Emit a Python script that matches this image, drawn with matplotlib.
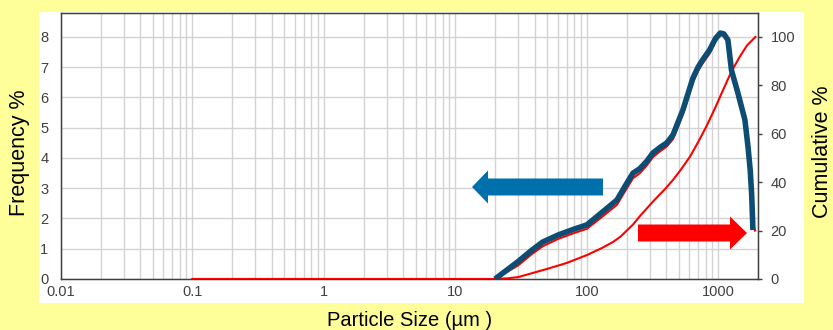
import matplotlib
matplotlib.use("Agg")
import matplotlib.pyplot as plt
from matplotlib.patches import Rectangle, FancyArrow
from matplotlib.ticker import LogLocator, FixedLocator, NullFormatter

plt.rcParams["font.family"] = ["Liberation Sans", "DejaVu Sans"]

# frequency curve (left axis), hand drawn blue overlay
size_blue = [20, 30, 38, 46, 60, 80, 100, 130, 169, 200, 224, 253, 286, 318, 360, 405,
             451, 500, 537, 575, 640, 700, 760, 857, 950, 1033, 1100, 1181, 1257, 1406,
             1590, 1680, 1745, 1790, 1830]
freq_blue = [0.0, 0.58, 0.95, 1.22, 1.45, 1.65, 1.79, 2.2, 2.61, 3.15, 3.5, 3.65, 3.9,
             4.17, 4.35, 4.5, 4.76, 5.25, 5.59, 6.0, 6.64, 7.0, 7.25, 7.57, 7.95, 8.13,
             8.1, 7.9, 6.9, 6.15, 5.26, 4.36, 3.6, 2.8, 1.62]

# frequency curve (left axis), red instrument trace
size_red = [0.1, 20, 30, 38, 46, 60, 80, 100, 130, 169, 200, 224, 253, 286, 318, 360,
            405, 451, 500, 537, 575, 640, 700, 760, 857, 950, 1033, 1100, 1181, 1257,
            1406, 1590, 1680, 1745, 1790, 1850, 1900]
freq_red = [0.0, 0.0, 0.45, 0.82, 1.08, 1.32, 1.52, 1.66, 2.05, 2.45, 2.98, 3.33, 3.5,
            3.76, 4.03, 4.22, 4.38, 4.62, 5.1, 5.45, 5.85, 6.5, 6.88, 7.13, 7.45, 7.85,
            8.05, 8.05, 7.88, 6.95, 6.22, 5.35, 4.45, 3.7, 2.9, 1.7, 1.6]

# cumulative curve (right axis)
size_cum = [0.1, 20, 25, 30, 38.8, 50, 70, 100, 130, 158, 180, 224, 253, 318, 390, 451,
            520, 607, 700, 818, 950, 1083, 1250, 1448, 1650, 1910]
cum = [0.0, 0.0, 0.3, 0.8, 2.5, 4.2, 6.6, 9.9, 12.8, 15.3, 17.5, 22.5, 26.0, 32.0, 37.0,
       40.9, 45.3, 50.5, 56.5, 63.5, 71.0, 78.0, 85.5, 91.7, 96.5, 100.0]

left_ticks = [0, 1, 2, 3, 4, 5, 6, 7, 8]
right_ticks = [0, 20, 40, 60, 80, 100]
x_ticks = [0.01, 0.1, 1, 10, 100, 1000]
x_labels = ["0.01", "0.1", "1", "10", "100", "1000"]

fig = plt.figure(figsize=(8.33, 3.3), dpi=100)
fig.patch.set_facecolor("#FFFF99")
fig.add_artist(Rectangle((39 / 833, 27 / 330), 765 / 833, 291 / 330,
                         transform=fig.transFigure, facecolor="white",
                         edgecolor="none", zorder=0))

ax = fig.add_axes([61 / 833, 51 / 330, 697 / 833, 266 / 330])
ax.set_xscale("log")
ax.set_xlim(0.01, 2000)
ax.set_ylim(0, 8.79)

# grid
ax.xaxis.set_major_locator(FixedLocator(x_ticks))
ax.xaxis.set_minor_locator(LogLocator(base=10, subs=range(2, 10), numticks=20))
ax.xaxis.set_minor_formatter(NullFormatter())
ax.set_xticklabels(x_labels)
ax.set_yticks(left_ticks)
ax.grid(True, which="both", axis="x", color="#D3D3D3", lw=1.0)
ax.grid(True, which="major", axis="y", color="#D3D3D3", lw=1.0)
ax.set_axisbelow(True)

ax.tick_params(axis="both", which="both", length=0, labelsize=10.5, colors="#404040")
ax.tick_params(axis="y", pad=9)
ax.tick_params(axis="x", pad=4)
for s in ax.spines.values():
    s.set_color("#404040")
    s.set_linewidth(1.0)

ax2 = ax.twinx()
ax2.set_ylim(0, 109.9)
ax2.set_yticks(right_ticks)
ax2.tick_params(axis="y", length=3, width=1, labelsize=10.5, colors="#404040",
                direction="out", pad=6)
for s in ax2.spines.values():
    s.set_color("#404040")

ax.plot(size_red, freq_red, color="#FF0000", lw=1.5, zorder=3)
ax2.plot(size_cum, cum, color="#FF0000", lw=1.5, zorder=3)
ax2.plot(size_blue, [f * 12.5 for f in freq_blue], color="#0D4D73",
         lw=4, solid_capstyle="butt", solid_joinstyle="round", zorder=4)

# axis titles placed on the yellow frame
fig.text(20 / 833, 1 - 153 / 330, "Frequency %", rotation=90, fontsize=15.5,
         ha="center", va="center")
fig.text(823 / 833, 1 - 152 / 330, "Cumulative %", rotation=90, fontsize=15.5,
         ha="center", va="center")
fig.text(410 / 833, 3.5 / 330, "Particle Size (\u00b5m )", fontsize=14.5,
         ha="center", va="baseline")

# direction arrows (figure inches)
fig.add_artist(FancyArrow(6.03, 1.43, -1.31, 0, width=0.17, head_width=0.33,
                          head_length=0.16, length_includes_head=True,
                          transform=fig.dpi_scale_trans, color="#0070AC", lw=0))
fig.add_artist(FancyArrow(6.38, 0.97, 1.09, 0, width=0.17, head_width=0.33,
                          head_length=0.17, length_includes_head=True,
                          transform=fig.dpi_scale_trans, color="#FF0000", lw=0))

fig.savefig("out.png", dpi=100, facecolor=fig.get_facecolor())
